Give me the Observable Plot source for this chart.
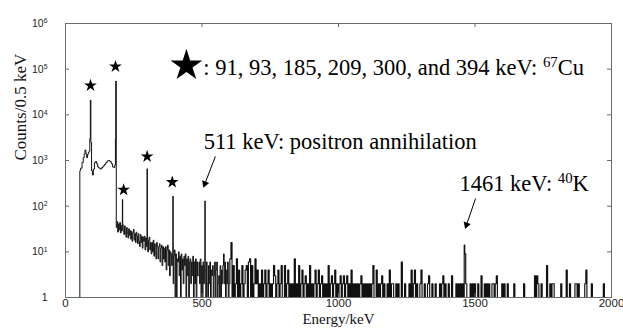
<!DOCTYPE html>
<html><head><meta charset="utf-8">
<script src="https://cdn.jsdelivr.net/npm/d3@7"></script>
<script src="https://cdn.jsdelivr.net/npm/@observablehq/plot@0.6"></script>
<style>body{margin:0;background:#fff}</style>
</head><body><div id="chart"></div>
<script>
// ---- spectrum data (energy in keV, counts per 0.5 keV) ----
// low-energy shape, 0–184 keV
const lowE = [0, 52, 53, 58, 63, 67, 70, 73, 76, 79, 82, 85, 88, 90, 94, 97, 100, 104, 108, 112,
  116, 120, 125, 130, 135, 140, 145, 150, 155, 160, 165, 170, 175, 179, 182, 183.8];
const lowC = [0, 0, 600, 680, 900, 1150, 1400, 1700, 1400, 1150, 1350, 1500, 1600, 3000, 2500, 600, 480, 650, 900, 950,
  850, 720, 680, 650, 700, 760, 820, 900, 980, 1000, 950, 850, 720, 700, 800, 3000];
// photopeaks
const peakE = [92, 184.5, 209, 300, 394, 511, 1461];
const peakC = [21000, 55000, 140, 660, 165, 130, 14];
// continuum 187.5–597.5 keV, 2.5 keV per value
const midStart = 187.5, midStep = 2.5;
const midC = [
  34, 46, 27, 41, 30, 44, 26, 38, 29, 40,
  28, 24, 37, 26, 21, 34, 25, 20, 32, 23,
  29, 19, 28, 17, 26, 31, 18, 25, 16, 27,
  22, 15, 25, 17, 13, 24, 16, 22, 12, 21,
  17, 22, 11, 20, 13, 19, 10, 18, 21, 11,
  16, 9, 16, 10, 18, 8, 15, 9, 7, 16,
  13, 7, 13, 15, 6, 12, 14, 5, 13, 7,
  12, 6, 13, 4, 11, 14, 5, 11, 3, 10,
  9, 5, 9, 2, 8, 11, 0, 9, 1, 7,
  6, 10, 3, 8, 0, 9, 4, 7, 2, 8,
  5, 9, 1, 7, 3, 8, 0, 6, 7, 2,
  6, 3, 8, 1, 6, 2, 7, 0, 6, 3,
  3, 6, 2, 7, 1, 5, 0, 6, 2, 5,
  4, 1, 6, 2, 0, 5, 2, 6, 1, 4,
  3, 5, 0, 3, 6, 1, 4, 6, 0, 2,
  3, 1, 5, 0, 4, 2, 5, 9, 2, 6,
  1, 4, 2, 6, 0
];
// high-energy region 600–1996 keV, 4 keV per value
const highStart = 600, highStep = 4;
const highC = [
  2, 7, 16, 0, 5, 0, 2, 7, 0, 4, 0, 2, 5, 0, 2, 4, 5, 0, 6, 7, 0, 5, 0, 2, 7,
  2, 4, 0, 2, 0, 4, 0, 2, 4, 0, 2, 4, 0, 2, 0, 2, 5, 3, 0, 2, 4, 0, 2, 5, 0,
  0, 5, 0, 2, 4, 0, 2, 0, 2, 0, 7, 0, 2, 0, 5, 0, 2, 4, 0, 2, 3, 0, 2, 0, 5,
  0, 2, 0, 2, 4, 0, 2, 4, 0, 2, 3, 0, 2, 0, 2, 0, 5, 0, 2, 3, 0, 2, 4, 0, 2,
  0, 2, 3, 0, 2, 3, 0, 2, 3, 0, 2, 0, 4, 0, 2, 0, 2, 0, 2, 0, 2, 3, 0, 2, 0,
  2, 0, 2, 0, 2, 0, 2, 5, 0, 0, 4, 0, 2, 0, 2, 3, 0, 2, 0, 0, 2, 0, 4, 0, 2,
  2, 0, 0, 2, 0, 2, 0, 0, 6, 0, 0, 2, 0, 0, 0, 2, 0, 4, 0, 2, 4, 0, 2, 0, 0,
  2, 4, 0, 0, 2, 0, 0, 2, 3, 0, 0, 2, 0, 0, 2, 0, 0, 0, 2, 0, 2, 3, 0, 2, 0,
  0, 2, 0, 0, 3, 0, 0, 0, 2, 0, 2, 0, 2, 0, 2, 0, 9, 2, 0, 0, 0, 2, 0, 2, 0,
  2, 0, 0, 2, 0, 0, 3, 0, 0, 2, 0, 2, 0, 2, 0, 0, 2, 2, 0, 2, 3, 0, 0, 0, 0,
  2, 0, 2, 0, 0, 2, 0, 0, 0, 0, 0, 2, 0, 0, 0, 0, 0, 0, 0, 0, 2, 0, 0, 0, 0,
  0, 0, 0, 0, 0, 3, 0, 3, 2, 0, 0, 2, 0, 0, 0, 0, 5, 0, 0, 2, 0, 2, 2, 0, 0,
  0, 0, 0, 0, 2, 0, 0, 0, 0, 4, 0, 0, 2, 0, 0, 0, 0, 2, 2, 0, 2, 0, 0, 0, 0,
  0, 2, 4, 0, 0, 0, 0, 2, 0, 0, 0, 0, 0, 0, 0, 0, 0, 0, 2, 0, 0, 0, 0, 0, 0
];

// ---- axes ----
const xTicks = [0, 500, 1000, 1500, 2000];
const yTicks = [1, 1e1, 1e2, 1e3, 1e4, 1e5, 1e6];
const xTitle = "Energy/keV";
const yTitle = "Counts/0.5 keV";

// ---- annotations (data coordinates) ----
const starE = [91.6, 183, 213, 299, 391];
const starC = [43900, 114000, 228, 1222, 335];
const keyStarE = [443];
const keyStarC = [1.2e5];
const noteText = [": 91, 93, 185, 209, 300, and 394 keV: ^(67)Cu", "511 keV: positron annihilation", "1461 keV: ^(40)K"];
const noteE = [505, 506, 1443];
const noteC = [1.09e5, 2600, 313];
const arrowE1 = [549, 1502];
const arrowC1 = [1230, 147];
const arrowE2 = [510.6, 1469];
const arrowC2 = [310, 39];

// ---- build tables ----
const spectrum = [];
lowE.forEach((e, i) => spectrum.push({E: e, c: lowC[i]}));
peakE.forEach((e, i) => spectrum.push({E: e, c: peakC[i]}));
midC.forEach((c, i) => spectrum.push({E: midStart + i * midStep, c}));
highC.forEach((c, i) => spectrum.push({E: highStart + i * highStep, c}));
spectrum.sort((a, b) => a.E - b.E);

const stars = starE.map((e, i) => ({E: e, c: starC[i]}));
const keyStar = keyStarE.map((e, i) => ({E: e, c: keyStarC[i]}));
const notes = noteText.map((t, i) => ({t, E: noteE[i], c: noteC[i]}));
const arrows = arrowE1.map((e, i) => ({x1: e, y1: arrowC1[i], x2: arrowE2[i], y2: arrowC2[i]}));

const serif = "'Liberation Serif', 'Times New Roman', serif";
const sans = "'Liberation Sans', Arial, Helvetica, sans-serif";
const frameColor = "#6a6a6a";

const chart = Plot.plot({
  width: 623, height: 331,
  marginLeft: 65, marginRight: 12, marginTop: 23, marginBottom: 34,
  style: {background: "#fff", color: "#111"},
  x: {domain: [0, 2000], axis: null},
  y: {type: "log", domain: [1, 1e6], axis: null},
  marks: [
    Plot.line(spectrum, {filter: d => d.E < highStart, x: "E", y: d => Math.max(d.c, 1), curve: "step",
      stroke: "#111", strokeWidth: 1, clip: true}),
    Plot.line(spectrum, {filter: d => d.E >= midStart + (midC.length - 1) * midStep, x: "E", y: d => Math.max(d.c, 1),
      curve: "step", stroke: "#111", strokeWidth: 1.15, clip: true}),
    Plot.frame({stroke: frameColor}),
    Plot.ruleX(xTicks, {insetTop: 270, stroke: frameColor}),
    Plot.ruleX(xTicks, {insetBottom: 270, stroke: frameColor}),
    Plot.ruleY(yTicks, {insetLeft: 542, stroke: frameColor}),
    Plot.ruleY(yTicks, {insetRight: 542, stroke: frameColor}),
    Plot.text(xTicks, {x: d => d, frameAnchor: "bottom", dy: 9.5, text: d => String(d),
      fontFamily: sans, fontSize: 11.5, fill: "#222"}),
    Plot.text(yTicks, {y: d => d, frameAnchor: "left", dx: -18, textAnchor: "end",
      text: d => d === 1 ? "1" : `10^(${Math.round(Math.log10(d))})`,
      fontFamily: sans, fontSize: 10.5, fill: "#222"}),
    Plot.text([xTitle], {frameAnchor: "bottom", dy: 26, text: d => d, fontFamily: serif, fontSize: 15}),
    Plot.text([yTitle], {frameAnchor: "left", dx: -45, rotate: -90, text: d => d, fontFamily: serif, fontSize: 17}),
    Plot.dot(stars, {x: "E", y: "c", symbol: "star", r: 4, fill: "#000", stroke: null}),
    Plot.dot(keyStar, {x: "E", y: "c", symbol: "star", r: 10, fill: "#000", stroke: null}),
    Plot.text(notes, {x: "E", y: "c", text: "t", textAnchor: "start", fontFamily: serif, fontSize: 22.5, fill: "#000"}),
    Plot.link(arrows, {x1: "x1", y1: "y1", x2: "x2", y2: "y2", stroke: "#000", strokeWidth: 1}),
    Plot.dot(arrows, {x: "x2", y: "y2", symbol: "triangle", r: 2.8, fill: "#000", stroke: null,
      rotate: (d, i) => [201, 199][i]})
  ]
});

// superscripts: "^(..)" -> raised tspan
function supify(root) {
  const ns = "http://www.w3.org/2000/svg";
  root.querySelectorAll("text").forEach(t => {
    const s = t.textContent;
    if (!s.includes("^(")) return;
    const parts = s.split(/\^\((.*?)\)/);
    t.textContent = "";
    let raised = false;
    parts.forEach((p, i) => {
      if (i % 2 === 1) {
        const ts = document.createElementNS(ns, "tspan");
        ts.setAttribute("font-size", "66%");
        ts.setAttribute("dy", "-0.52em");
        ts.textContent = p;
        t.appendChild(ts);
        raised = true;
      } else if (p) {
        const ts = document.createElementNS(ns, "tspan");
        if (raised) { ts.setAttribute("dy", "0.343em"); raised = false; }
        ts.textContent = p;
        t.appendChild(ts);
      }
    });
  });
}
supify(chart);
document.getElementById("chart").appendChild(chart);
</script>
</body></html>
